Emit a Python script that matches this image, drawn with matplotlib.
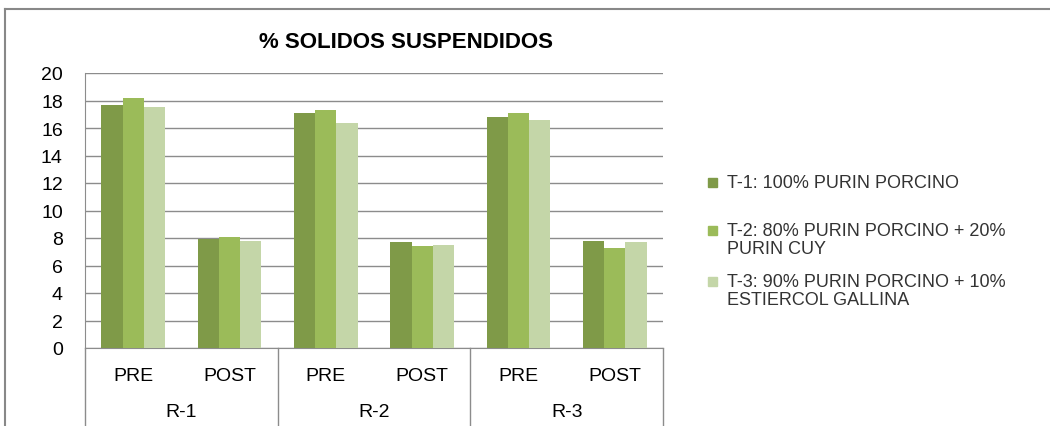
import matplotlib
matplotlib.use("Agg")
import matplotlib.pyplot as plt
from matplotlib.lines import Line2D
from matplotlib.patches import Rectangle
import numpy as np

# data
groups = ["R-1", "R-2", "R-3"]
stages = ["PRE", "POST"]
series_names = [
    "T-1: 100% PURIN PORCINO",
    "T-2: 80% PURIN PORCINO + 20%\nPURIN CUY",
    "T-3: 90% PURIN PORCINO + 10%\nESTIERCOL GALLINA",
]
t1 = [17.7, 7.9, 17.1, 7.7, 16.8, 7.8]
t2 = [18.2, 8.1, 17.3, 7.4, 17.1, 7.25]
t3 = [17.5, 7.8, 16.4, 7.5, 16.6, 7.7]
y_ticks = list(range(0, 21, 2))

colors = ["#7F9A48", "#9BBB59", "#C4D6A8"]
grid_col = "#8C8C8C"

plt.rcParams["font.family"] = ["Liberation Sans", "DejaVu Sans"]

fig = plt.figure(figsize=(10.5, 4.27), dpi=100)
W, H = 1050, 427

# outer chart frame
fig.add_artist(Line2D([5 / W, 5 / W], [0, 1 - 10 / H], color="#888888", lw=1.5,
                      transform=fig.transFigure))
fig.add_artist(Line2D([5 / W, 1], [1 - 10 / H, 1 - 10 / H], color="#888888", lw=1.5,
                      transform=fig.transFigure))

ax = fig.add_axes([85 / W, 1 - 349 / H, (663 - 85) / W, (349 - 74) / H])

n_cat = len(groups) * len(stages)
x = np.arange(n_cat)
bw = 0.22
for i, (vals, c, name) in enumerate(zip([t1, t2, t3], colors, series_names)):
    ax.bar(x + (i - 1) * bw, vals, width=bw, color=c, label=name, zorder=3)

ax.set_xlim(-0.5, n_cat - 0.5)
ax.set_ylim(0, 20)
ax.set_yticks(y_ticks)
ax.set_yticklabels([str(v) for v in y_ticks], fontsize=14)
ax.yaxis.grid(True, color=grid_col, lw=1, zorder=0)
ax.tick_params(axis="y", length=0, pad=16)
ax.tick_params(axis="x", length=0, pad=14)
ax.set_xticks(x)
ax.set_xticklabels(stages * len(groups), fontsize=14)
for s in ["top", "right"]:
    ax.spines[s].set_visible(False)
ax.spines["left"].set_color(grid_col)
ax.spines["bottom"].set_color(grid_col)

# multi-level category axis
tr = ax.get_xaxis_transform()
y_bot = (349 - 427) / (349 - 74)
for k in range(len(groups) + 1):
    xx = -0.5 + k * len(stages)
    ax.add_line(Line2D([xx, xx], [0, y_bot], color=grid_col, lw=1, transform=tr, clip_on=False))
for k, g in enumerate(groups):
    ax.text(k * len(stages) + 0.5, (349 - 413) / (349 - 74), g, transform=tr,
            ha="center", va="center", fontsize=14)

fig.text(406 / W, 1 - 42 / H, "% SOLIDOS SUSPENDIDOS", ha="center", va="center",
         fontsize=16, fontweight="bold")

# legend
box_y = [184, 232, 283]
text_y = [184, 240.5, 291.5]
for name, c, by, ty in zip(series_names, colors, box_y, text_y):
    fig.add_artist(Rectangle((708 / W, 1 - (by + 4) / H), 9 / W, 9 / H, color=c,
                             transform=fig.transFigure))
    fig.text(727 / W, 1 - ty / H, name, ha="left", va="center",
             fontsize=13, color="#333333", linespacing=1.1)

fig.savefig("out.png", dpi=100)
